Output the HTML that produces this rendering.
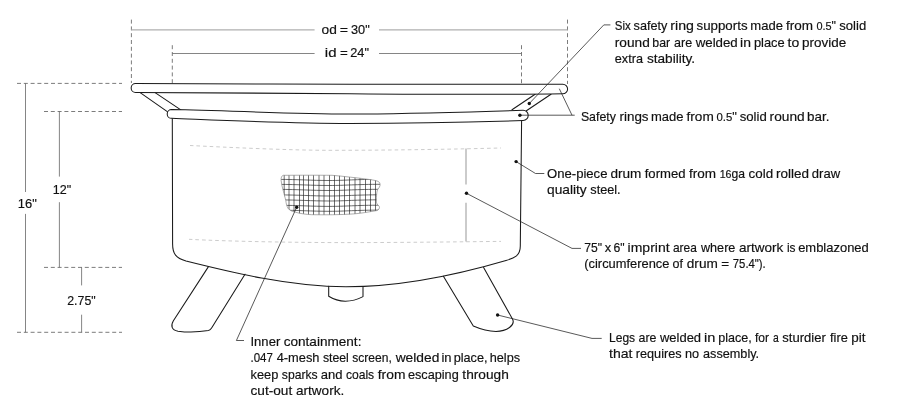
<!DOCTYPE html>
<html lang="en">
<head>
<meta charset="utf-8">
<title>Fire pit specifications</title>
<style>
html,body{margin:0;padding:0;background:#fff;}
body{width:898px;height:410px;overflow:hidden;}
svg{display:block;will-change:transform;}
text{font-family:"Liberation Sans",sans-serif;font-size:13.5px;fill:#111;stroke:#111;stroke-width:0.18;}
.o{fill:none;stroke:#1a1a1a;stroke-width:1.05;stroke-linecap:round;stroke-linejoin:round;}
.of{fill:#fff;stroke:#1a1a1a;stroke-width:1.05;stroke-linecap:round;stroke-linejoin:round;}
.l{fill:none;stroke:#222;stroke-width:0.75;}
.d{fill:none;stroke:#444;stroke-width:0.7;stroke-dasharray:4 2.8;}
.dl{fill:none;stroke:#999;stroke-width:0.5;stroke-dasharray:3.6 3;}
.v{fill:none;stroke:#666;stroke-width:0.8;}
.g{fill:none;stroke:#b0b0b0;stroke-width:1.3;}
.dot{fill:#111;}
</style>
</head>
<body>
<svg width="898" height="410" viewBox="0 0 898 410">
<rect width="898" height="410" fill="#fff"/>

<g>
<path class="d" d="M131.4 19.6V83"/>
<path class="d" d="M567.5 19.6V84"/>
<path class="d" d="M172.3 45.2V83.5"/>
<path class="d" d="M521.5 45.2V84"/>
<path class="g" d="M131.4 29.8H314.6M379 29.8H567.5"/>
<path class="v" d="M172.3 53.5H314.6M379 53.5H521.5"/>
</g>
<g>
<path class="d" d="M17 83.4H122"/>
<path class="d" d="M44 111.5H122"/>
<path class="d" d="M44 267.4H122"/>
<path class="d" d="M17 332.3H122"/>
<path class="v" d="M25.5 83.4V192M25.5 213.9V332.3"/>
<path class="v" d="M59.4 111.5V176.6M59.4 202.2V267.4"/>
<path class="v" d="M81.6 267.4V285.4M81.6 314.7V332.3"/>
</g>
<g>
<path class="of" d="M208.3 266.9L173.4 320.8C170.5 325.5 171.5 330 178 331.2C188 332.6 200 332 208.5 330.6C210 330.2 210.8 329.3 211.6 328L245 274.2"/>
<path class="of" d="M328.7 286.2V296.3C333 299 340 301.2 345.3 301.2C351 301.2 358 299.2 363 296.6V286.4"/>
<path class="of" d="M443.4 276.3L473.3 326.1C480 329 488 331.4 496 331.4C507 331.4 515.5 325 512.6 319.2L483.6 267.5"/>
</g>
<g>
<path class="o" d="M139.8 92.4L167.3 111.6M155.1 92.6L180.8 109.9"/>
<path class="o" d="M512 109.8L535.1 94.2M526.4 110.7L551 94.2"/>
</g>
<path class="o" d="M172.3 118L172.6 244C172.6 254 176 258 186 261C230 272 290 286.8 346 286.8C400 286.8 460 274 506 260.5C514 258.2 520.3 256 520.3 246L521.6 120"/>
<path class="dl" d="M190 145.5C230 147.5 290 150.3 330 150.3C400 150.3 460 149 501 148"/>
<path class="dl" d="M189 239.3C230 241.5 300 242.6 345 242.6C400 242.6 460 241.8 501 241.4"/>
<path class="g" d="M466 148.4V184.5M466 202.7V241.4"/>
<path class="of" d="M135.6 83.5C180 83.6 280 84.2 350 84.2H562.8A4.75 4.75 0 0 1 562.8 93.8C500 94.8 420 94.3 350 93.7C270 93.1 190 92.5 135.6 92.4A4.45 4.45 0 0 1 135.6 83.5Z"/>
<path class="of" d="M171.6 109.5C230 110.5 290 114 350 114C410 114 470 111.8 523 110.3A5.1 5.1 0 0 1 523.2 120.5C470 122.2 410 123.4 350 123.4C290 123.4 230 120.6 171.6 118.3A4.4 4.4 0 0 1 171.6 109.5Z"/>
<defs><clipPath id="mc"><path d="M283.4 175.3C300 175.2 318 175.2 332 175.3C338 175.6 344 176.6 350.6 177.2C357 177.8 363 178.6 369.4 179.5C374 180.2 378 180.6 379.6 182.6C380.6 184.6 380.2 186.6 378 189C376.6 191 376.4 196 376.4 202.2C376.6 205 379.8 205.6 379.5 207.5C379 210 377.5 210.6 375.6 210.8C368 212 361 213.4 353.8 213.9C340 214.9 325 214.9 311.6 214.7C306 214.4 300 213.6 295.9 212.3C292 211.4 289.6 210.4 288.1 208.4C286.6 206 286.2 203.6 285.8 200.6C285 197 284 194 283.4 191.3C282.4 187.6 281.4 184 281.1 180.3C281 177.6 281.6 175.6 283.4 175.3Z"/></clipPath></defs>
<g clip-path="url(#mc)">
<path d="M284.20 170V220M289.00 170V220M294.00 170V220M299.50 170V220M303.50 170V220M308.50 170V220M313.50 170V220M319.00 170V220M324.00 170V220M329.50 170V220M334.50 170V220M339.50 170V220M344.50 170V220M349.50 170V220M355.00 170V220M360.00 170V220M365.50 170V220M370.50 170V220M375.50 170V220M278 179.40C300 179.40 310 180.50 330 180.50C345 180.50 355 179.30 382 179.30M278 184.40C300 184.40 310 185.50 330 185.50C345 185.50 355 184.30 382 184.30M278 189.40C300 189.40 310 190.50 330 190.50C345 190.50 355 189.30 382 189.30M278 194.90C300 194.90 310 196.00 330 196.00C345 196.00 355 194.80 382 194.80M278 199.90C300 199.90 310 201.00 330 201.00C345 201.00 355 199.80 382 199.80M278 205.30C300 205.30 310 206.40 330 206.40C345 206.40 355 205.20 382 205.20M278 210.20C300 210.20 310 211.30 330 211.30C345 211.30 355 210.10 382 210.10" fill="none" stroke="#2a2a2a" stroke-width="0.68"/>
</g>
<path d="M283.4 175.3C300 175.2 318 175.2 332 175.3C338 175.6 344 176.6 350.6 177.2C357 177.8 363 178.6 369.4 179.5C374 180.2 378 180.6 379.6 182.6C380.6 184.6 380.2 186.6 378 189C376.6 191 376.4 196 376.4 202.2C376.6 205 379.8 205.6 379.5 207.5C379 210 377.5 210.6 375.6 210.8C368 212 361 213.4 353.8 213.9C340 214.9 325 214.9 311.6 214.7C306 214.4 300 213.6 295.9 212.3C292 211.4 289.6 210.4 288.1 208.4C286.6 206 286.2 203.6 285.8 200.6C285 197 284 194 283.4 191.3C282.4 187.6 281.4 184 281.1 180.3C281 177.6 281.6 175.6 283.4 175.3Z" fill="none" stroke="#777" stroke-width="0.6"/>
<g>
<path class="l" d="M529.3 103.5L603.8 24.9H610.4"/>
<path class="l" d="M519.9 115.2H574.7M559.3 88.7L572 115.2"/>
<path class="l" d="M516.1 161.6L535.5 173.5H544.3"/>
<path class="l" d="M466.5 193.3L572 248.4H581"/>
<path class="l" d="M497.6 315L592 338.4H601.7"/>
<path class="l" d="M296.7 207.2L236.4 340.5H244"/>
<circle class="dot" cx="529.3" cy="103.5" r="1.7"/>
<circle class="dot" cx="519.9" cy="115.3" r="1.7"/>
<circle class="dot" cx="516.1" cy="161.6" r="1.7"/>
<circle class="dot" cx="466.5" cy="193.3" r="1.7"/>
<circle class="dot" cx="497.6" cy="315.0" r="1.7"/>
<circle class="dot" cx="296.7" cy="207.2" r="1.7"/>
</g>
<g>
<text y="30.4"><tspan x="614.80" textLength="15.98" lengthAdjust="spacingAndGlyphs">Six</tspan> <tspan x="633.56" textLength="33.81" lengthAdjust="spacingAndGlyphs">safety</tspan> <tspan x="670.27" textLength="23.63" lengthAdjust="spacingAndGlyphs">ring</tspan> <tspan x="696.55" textLength="50.98" lengthAdjust="spacingAndGlyphs">supports</tspan> <tspan x="750.32" textLength="32.67" lengthAdjust="spacingAndGlyphs">made</tspan> <tspan x="786.10" textLength="27.00" lengthAdjust="spacingAndGlyphs">from</tspan> <tspan x="816.39" textLength="19.61" lengthAdjust="spacingAndGlyphs"><tspan font-size="11.8">0.5</tspan>&quot;</tspan> <tspan x="839.32" textLength="26.86" lengthAdjust="spacingAndGlyphs">solid</tspan></text>
<text y="46.7"><tspan x="614.80" textLength="34.99" lengthAdjust="spacingAndGlyphs">round</tspan> <tspan x="652.36" textLength="17.82" lengthAdjust="spacingAndGlyphs">bar</tspan> <tspan x="674.01" textLength="18.12" lengthAdjust="spacingAndGlyphs">are</tspan> <tspan x="695.66" textLength="42.10" lengthAdjust="spacingAndGlyphs">welded</tspan> <tspan x="740.14" textLength="10.88" lengthAdjust="spacingAndGlyphs">in</tspan> <tspan x="753.88" textLength="30.81" lengthAdjust="spacingAndGlyphs">place</tspan> <tspan x="787.60" textLength="11.67" lengthAdjust="spacingAndGlyphs">to</tspan> <tspan x="802.00" textLength="44.16" lengthAdjust="spacingAndGlyphs">provide</tspan></text>
<text y="62.8"><tspan x="614.80" textLength="28.15" lengthAdjust="spacingAndGlyphs">extra</tspan> <tspan x="646.95" textLength="48.17" lengthAdjust="spacingAndGlyphs">stability.</tspan></text>
<text y="120.9"><tspan x="580.90" textLength="34.99" lengthAdjust="spacingAndGlyphs">Safety</tspan> <tspan x="619.51" textLength="29.06" lengthAdjust="spacingAndGlyphs">rings</tspan> <tspan x="651.01" textLength="32.50" lengthAdjust="spacingAndGlyphs">made</tspan> <tspan x="686.53" textLength="27.22" lengthAdjust="spacingAndGlyphs">from</tspan> <tspan x="716.50" textLength="20.44" lengthAdjust="spacingAndGlyphs"><tspan font-size="11.8">0.5</tspan>&quot;</tspan> <tspan x="739.73" textLength="27.08" lengthAdjust="spacingAndGlyphs">solid</tspan> <tspan x="769.62" textLength="35.13" lengthAdjust="spacingAndGlyphs">round</tspan> <tspan x="807.11" textLength="22.33" lengthAdjust="spacingAndGlyphs">bar.</tspan></text>
<text y="177.5"><tspan x="547.00" textLength="60.46" lengthAdjust="spacingAndGlyphs">One-piece</tspan> <tspan x="610.38" textLength="30.91" lengthAdjust="spacingAndGlyphs">drum</tspan> <tspan x="644.71" textLength="40.80" lengthAdjust="spacingAndGlyphs">formed</tspan> <tspan x="689.02" textLength="27.05" lengthAdjust="spacingAndGlyphs">from</tspan> <tspan x="719.63" textLength="25.38" lengthAdjust="spacingAndGlyphs"><tspan font-size="11.8">16</tspan>ga</tspan> <tspan x="748.57" textLength="24.55" lengthAdjust="spacingAndGlyphs">cold</tspan> <tspan x="775.94" textLength="33.00" lengthAdjust="spacingAndGlyphs">rolled</tspan> <tspan x="811.82" textLength="28.29" lengthAdjust="spacingAndGlyphs">draw</tspan></text>
<text y="194.1"><tspan x="547.00" textLength="39.71" lengthAdjust="spacingAndGlyphs">quality</tspan> <tspan x="590.35" textLength="30.31" lengthAdjust="spacingAndGlyphs">steel.</tspan></text>
<text y="251.6"><tspan x="584.30" textLength="17.79" lengthAdjust="spacingAndGlyphs">75&quot;</tspan> <tspan x="604.84" textLength="6.41" lengthAdjust="spacingAndGlyphs">x</tspan> <tspan x="613.45" textLength="11.12" lengthAdjust="spacingAndGlyphs">6&quot;</tspan> <tspan x="627.62" textLength="41.94" lengthAdjust="spacingAndGlyphs">imprint</tspan> <tspan x="672.92" textLength="23.92" lengthAdjust="spacingAndGlyphs">area</tspan> <tspan x="701.02" textLength="34.33" lengthAdjust="spacingAndGlyphs">where</tspan> <tspan x="738.91" textLength="44.31" lengthAdjust="spacingAndGlyphs">artwork</tspan> <tspan x="786.93" textLength="8.57" lengthAdjust="spacingAndGlyphs">is</tspan> <tspan x="798.16" textLength="70.64" lengthAdjust="spacingAndGlyphs">emblazoned</tspan></text>
<text y="268.0"><tspan x="584.30" textLength="85.08" lengthAdjust="spacingAndGlyphs">(circumference</tspan> <tspan x="672.50" textLength="10.44" lengthAdjust="spacingAndGlyphs">of</tspan> <tspan x="686.79" textLength="31.01" lengthAdjust="spacingAndGlyphs">drum</tspan> <tspan x="721.15" textLength="7.95" lengthAdjust="spacingAndGlyphs">=</tspan> <tspan x="732.83" textLength="32.94" lengthAdjust="spacingAndGlyphs">75.4&quot;).</tspan></text>
<text y="342.0"><tspan x="609.00" textLength="26.14" lengthAdjust="spacingAndGlyphs">Legs</tspan> <tspan x="638.58" textLength="17.91" lengthAdjust="spacingAndGlyphs">are</tspan> <tspan x="659.98" textLength="41.11" lengthAdjust="spacingAndGlyphs">welded</tspan> <tspan x="704.06" textLength="11.37" lengthAdjust="spacingAndGlyphs">in</tspan> <tspan x="718.16" textLength="33.49" lengthAdjust="spacingAndGlyphs">place,</tspan> <tspan x="754.88" textLength="14.04" lengthAdjust="spacingAndGlyphs">for</tspan> <tspan x="773.02" textLength="5.76" lengthAdjust="spacingAndGlyphs">a</tspan> <tspan x="782.32" textLength="43.40" lengthAdjust="spacingAndGlyphs">sturdier</tspan> <tspan x="829.97" textLength="17.82" lengthAdjust="spacingAndGlyphs">fire</tspan> <tspan x="851.20" textLength="14.20" lengthAdjust="spacingAndGlyphs">pit</tspan></text>
<text y="358.4"><tspan x="609.00" textLength="23.43" lengthAdjust="spacingAndGlyphs">that</tspan> <tspan x="635.75" textLength="45.85" lengthAdjust="spacingAndGlyphs">requires</tspan> <tspan x="685.04" textLength="14.15" lengthAdjust="spacingAndGlyphs">no</tspan> <tspan x="703.01" textLength="56.16" lengthAdjust="spacingAndGlyphs">assembly.</tspan></text>
<text y="345.7"><tspan x="250.50" textLength="29.73" lengthAdjust="spacingAndGlyphs">Inner</tspan> <tspan x="283.70" textLength="77.72" lengthAdjust="spacingAndGlyphs">containment:</tspan></text>
<text y="362.2"><tspan x="250.50" textLength="22.43" lengthAdjust="spacingAndGlyphs">.047</tspan> <tspan x="276.71" textLength="42.79" lengthAdjust="spacingAndGlyphs">4-mesh</tspan> <tspan x="322.92" textLength="25.94" lengthAdjust="spacingAndGlyphs">steel</tspan> <tspan x="352.18" textLength="39.58" lengthAdjust="spacingAndGlyphs">screen,</tspan> <tspan x="395.67" textLength="43.65" lengthAdjust="spacingAndGlyphs">welded</tspan> <tspan x="441.39" textLength="10.12" lengthAdjust="spacingAndGlyphs">in</tspan> <tspan x="453.67" textLength="33.79" lengthAdjust="spacingAndGlyphs">place,</tspan> <tspan x="489.70" textLength="30.37" lengthAdjust="spacingAndGlyphs">helps</tspan></text>
<text y="378.7"><tspan x="250.50" textLength="27.79" lengthAdjust="spacingAndGlyphs">keep</tspan> <tspan x="281.83" textLength="35.84" lengthAdjust="spacingAndGlyphs">sparks</tspan> <tspan x="320.68" textLength="21.77" lengthAdjust="spacingAndGlyphs">and</tspan> <tspan x="345.89" textLength="28.29" lengthAdjust="spacingAndGlyphs">coals</tspan> <tspan x="377.79" textLength="27.65" lengthAdjust="spacingAndGlyphs">from</tspan> <tspan x="407.92" textLength="50.83" lengthAdjust="spacingAndGlyphs">escaping</tspan> <tspan x="462.36" textLength="46.43" lengthAdjust="spacingAndGlyphs">through</tspan></text>
<text y="394.6"><tspan x="250.50" textLength="41.76" lengthAdjust="spacingAndGlyphs">cut-out</tspan> <tspan x="295.95" textLength="48.35" lengthAdjust="spacingAndGlyphs">artwork.</tspan></text>
<text y="34.2"><tspan x="321.50" textLength="15.29" lengthAdjust="spacingAndGlyphs">od</tspan> <tspan x="339.80" textLength="8.31" lengthAdjust="spacingAndGlyphs">=</tspan> <tspan x="350.98" textLength="18.69" lengthAdjust="spacingAndGlyphs">30&quot;</tspan></text>
<text y="56.9"><tspan x="324.80" textLength="11.68" lengthAdjust="spacingAndGlyphs">id</tspan> <tspan x="339.91" textLength="7.79" lengthAdjust="spacingAndGlyphs">=</tspan> <tspan x="350.23" textLength="18.70" lengthAdjust="spacingAndGlyphs">24&quot;</tspan></text>
<text y="208.1"><tspan x="17.79" textLength="18.95" lengthAdjust="spacingAndGlyphs">16&quot;</tspan></text>
<text y="193.9"><tspan x="52.79" textLength="18.36" lengthAdjust="spacingAndGlyphs">12&quot;</tspan></text>
<text y="304.5"><tspan x="67.25" textLength="28.44" lengthAdjust="spacingAndGlyphs">2.75&quot;</tspan></text>
</g>
</svg>
</body>
</html>
